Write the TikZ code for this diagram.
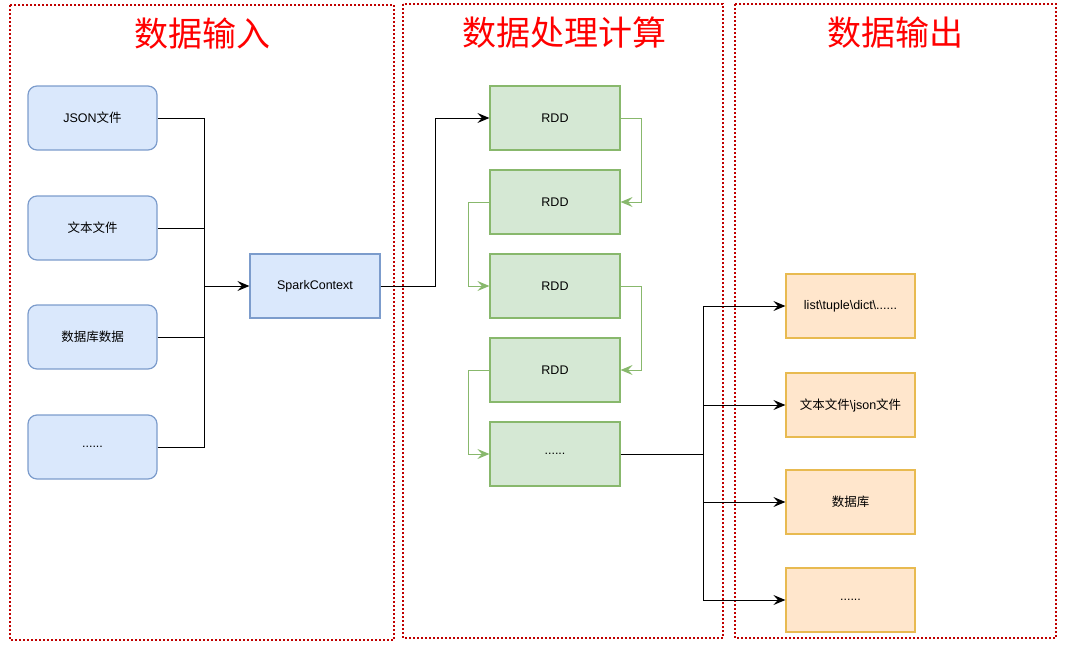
\documentclass[tikz,border=0pt]{standalone}
\usepackage{fontspec}
\setmainfont{Liberation Sans}
\newfontfamily\cjk{Noto Sans CJK SC}
\usepackage{tikz}
\usetikzlibrary{arrows.meta}
\usetikzlibrary{positioning}
\definecolor{inblue}{HTML}{DAE8FC}
\definecolor{inbluedraw}{HTML}{7C9CCC}
\definecolor{rddgreen}{HTML}{D5E8D4}
\definecolor{rddgreendraw}{HTML}{88B86C}
\definecolor{outorange}{HTML}{FFE6CC}
\definecolor{outorangedraw}{HTML}{E8BA50}
\definecolor{framered}{HTML}{C00000}
\tikzstyle{srcbox}=[draw=inbluedraw,fill=inblue,line width=1.2pt,rounded corners=9pt,minimum width=129pt,minimum height=64pt,inner sep=1pt,font=\fontsize{12.5}{15}\selectfont]
\tikzstyle{ctxbox}=[draw=inbluedraw,fill=inblue,line width=1.2pt,minimum width=130pt,minimum height=64pt,inner sep=1pt,font=\fontsize{12.5}{15}\selectfont]
\tikzstyle{rddbox}=[draw=rddgreendraw,fill=rddgreen,line width=1.2pt,minimum width=130pt,minimum height=64pt,inner sep=1pt,font=\fontsize{12.5}{15}\selectfont]
\tikzstyle{outbox}=[draw=outorangedraw,fill=outorange,line width=1.2pt,minimum width=129pt,minimum height=64pt,inner sep=1pt,font=\fontsize{12.5}{15}\selectfont]
\tikzstyle{stage}=[draw=framered,line width=2pt,dash pattern=on 2pt off 2pt]
\tikzstyle{stagetitle}=[text=red,font=\cjk\fontsize{34}{40}\selectfont]

\begin{document}
\begin{tikzpicture}[x=1pt,y=-1pt,line width=1pt,>={Stealth[length=12pt,width=10pt,inset=4.5pt]}]
\useasboundingbox (0,0) rectangle (1068,653);
% three stages
\draw[stage] (10,5) rectangle (394,640);
\draw[stage] (403,4) rectangle (723,638);
\draw[stage] (735,4) rectangle (1056,638);
\node[stagetitle] (tin) at (202,34) {数据输入};
\node[stagetitle] (tcalc) at (564,33) {数据处理计算};
\node[stagetitle] (tout) at (895,33) {数据输出};

% inputs
\node [srcbox] (json) at (92.5,118) {JSON{\cjk 文件}};
\node [srcbox,below=44.8pt of json] (txt) {{\cjk 文本文件}};
\node [srcbox,below=43.8pt of txt] (db) {{\cjk 数据库数据}};
\node [srcbox,below=44.8pt of db] (more) {......};
\node [ctxbox] (sc) at (315,286) {SparkContext};

% rdds
\node [rddbox] (rdd1) at (555,118) {RDD};
\node [rddbox,below=18.8pt of rdd1] (rdd2) {RDD};
\node [rddbox,below=18.8pt of rdd2] (rdd3) {RDD};
\node [rddbox,below=18.8pt of rdd3] (rdd4) {RDD};
\node [rddbox,below=18.8pt of rdd4] (rdd5) {......};

% outputs
\node [outbox] (list) at (850.5,306) {list\textbackslash tuple\textbackslash dict\textbackslash ......};
\node [outbox,below=33.8pt of list] (file) {{\cjk 文本文件}\textbackslash json{\cjk 文件}};
\node [outbox,below=31.8pt of file] (dbout) {{\cjk 数据库}};
\node [outbox,below=32.8pt of dbout] (moreout) {......};

\coordinate (busin) at (204,286);
\coordinate (up) at (435,286);
\path (rdd5.east) ++(83,0) coordinate (busout);

\draw (json.east) -| (busin);
\draw (txt.east) -| (busin);
\draw (db.east) -| (busin);
\draw (more.east) -| (busin);
\draw[->] (busin) -- (sc.west);
\draw[->] (sc.east) -- (up) |- (rdd1.west);

\draw[->,rddgreendraw] (rdd1.east) -- ++(21,0) |- (rdd2.east);
\draw[->,rddgreendraw] (rdd2.west) -- ++(-21,0) |- (rdd3.west);
\draw[->,rddgreendraw] (rdd3.east) -- ++(21,0) |- (rdd4.east);
\draw[->,rddgreendraw] (rdd4.west) -- ++(-21,0) |- (rdd5.west);

\draw (rdd5.east) -- (busout);
\draw[->] (busout) |- (list.west);
\draw[->] (busout) |- (file.west);
\draw[->] (busout) |- (dbout.west);
\draw[->] (busout) |- (moreout.west);
\end{tikzpicture}
\end{document}
